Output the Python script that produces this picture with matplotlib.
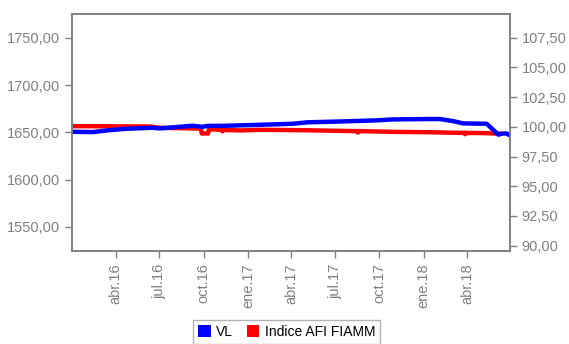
import matplotlib
matplotlib.use("Agg")
import matplotlib.pyplot as plt
import matplotlib.dates as mdates
from matplotlib.patches import Patch
from matplotlib.ticker import FuncFormatter, FixedLocator
import pandas as pd

plt.rcParams['font.family'] = ['Liberation Sans', 'DejaVu Sans']

# VL (left axis)
vl_dates = ["2016-01-04", "2016-02-14", "2016-03-20", "2016-04-24", "2016-06-17",
            "2016-07-02", "2016-09-08", "2016-09-29", "2016-10-08", "2016-11-17",
            "2017-01-26", "2017-04-04", "2017-05-03", "2017-07-17", "2017-09-25",
            "2017-10-29", "2018-01-07", "2018-02-04", "2018-03-03", "2018-03-24",
            "2018-05-12", "2018-05-26", "2018-06-05", "2018-06-12", "2018-06-22",
            "2018-06-28"]
vl_values = [1650.6, 1650.3, 1652.4, 1653.8, 1654.9,
             1654.2, 1657.0, 1655.9, 1656.8, 1657.0,
             1658.0, 1659.1, 1660.6, 1661.6, 1662.7,
             1663.7, 1664.1, 1664.1, 1661.9, 1659.5,
             1659.1, 1652.4, 1647.6, 1648.6, 1648.9,
             1647.1]

# Indice AFI FIAMM (right axis)
idx_dates = ["2016-01-04", "2016-06-11", "2016-07-02", "2016-09-08", "2016-09-25",
             "2016-09-27", "2016-10-10", "2016-10-12", "2016-10-14", "2016-11-08",
             "2016-11-09", "2016-11-10", "2016-12-18", "2017-01-26", "2017-04-23",
             "2017-07-17", "2017-08-16", "2017-08-17", "2017-08-18", "2017-09-25",
             "2017-10-29", "2018-01-07", "2018-03-27", "2018-03-28", "2018-03-29",
             "2018-05-12", "2018-06-09"]
idx_values = [100.06, 100.03, 99.92, 99.87, 99.85,
              99.44, 99.44, 99.80, 99.80, 99.74,
              99.62, 99.74, 99.70, 99.75, 99.72,
              99.66, 99.64, 99.52, 99.64, 99.61,
              99.58, 99.55, 99.49, 99.38, 99.49,
              99.47, 99.42]

left_ticks = [1550, 1600, 1650, 1700, 1750]
right_ticks = [90, 92.5, 95, 97.5, 100, 102.5, 105, 107.5]
month_names = {1: "ene", 4: "abr", 7: "jul", 10: "oct"}

grey = "#808080"
fig = plt.figure(figsize=(5.69, 3.44), dpi=100)
ax = fig.add_axes([0.127, 0.271, 0.769, 0.687])
ax2 = ax.twinx()
ax.set_zorder(ax2.get_zorder() + 1)
ax.patch.set_visible(False)

ax.plot(pd.to_datetime(vl_dates), vl_values, color="#0000ff", linewidth=3.2)
ax2.plot(pd.to_datetime(idx_dates), idx_values, color="#ff0000", linewidth=3.2)

ax.set_xlim(pd.Timestamp("2016-01-02"), pd.Timestamp("2018-06-29"))
ax.set_ylim(1524.8, 1774.7)
ax2.set_ylim(89.57, 109.46)

ax.yaxis.set_major_locator(FixedLocator(left_ticks))
ax2.yaxis.set_major_locator(FixedLocator(right_ticks))
comma = FuncFormatter(lambda v, p: f"{v:.2f}".replace(".", ","))
ax.yaxis.set_major_formatter(comma)
ax2.yaxis.set_major_formatter(comma)

ax.xaxis.set_major_locator(mdates.MonthLocator(bymonth=[1, 4, 7, 10]))
ax.xaxis.set_major_formatter(FuncFormatter(
    lambda v, p: f"{month_names[mdates.num2date(v).month]}.{mdates.num2date(v).year % 100:02d}"))
# first Jan tick sits on the left edge; hide it
ax.set_xticks([t for t in ax.get_xticks() if mdates.num2date(t) > mdates.num2date(ax.get_xlim()[0]) + pd.Timedelta(days=10)])

for a in (ax, ax2):
    for s in a.spines.values():
        s.set_color(grey)
        s.set_linewidth(1.2)
    a.tick_params(colors=grey, labelcolor=grey, labelsize=10.5, length=5, width=1)
ax.tick_params(axis='x', labelrotation=90, pad=4)

handles = [Patch(facecolor="#0000ff", edgecolor="none", label="VL"),
           Patch(facecolor="#ff0000", edgecolor="none", label="Indice AFI FIAMM")]
leg = fig.legend(handles=handles, loc="upper center", bbox_to_anchor=(0.504, 0.07),
                 ncol=2, frameon=True, fancybox=False, fontsize=10,
                 handlelength=0.9, handleheight=0.9, handletextpad=0.4,
                 columnspacing=1.0, borderpad=0.35, borderaxespad=0)
leg.get_frame().set_edgecolor("#a0a0a0")
leg.get_frame().set_linewidth(1.0)

fig.savefig("out.png", dpi=100)
